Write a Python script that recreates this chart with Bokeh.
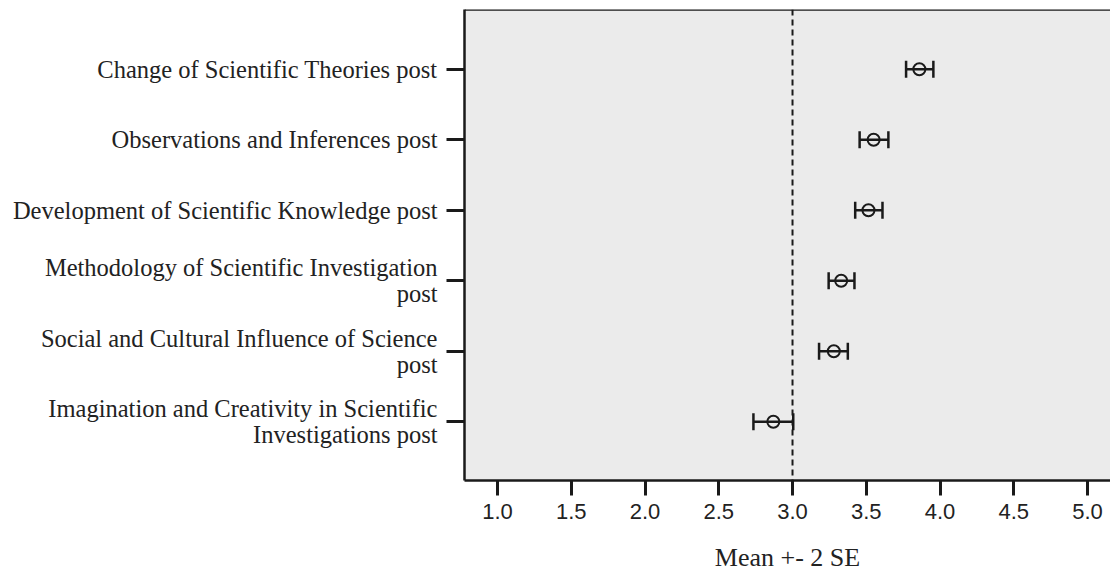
from bokeh.plotting import figure
from bokeh.models import (ColumnDataSource, Whisker, TeeHead, Span, FixedTicker,
                          Range1d, PrintfTickFormatter)
from bokeh.embed import file_html
from bokeh.resources import INLINE

categories = [
    "Change of Scientific Theories post",
    "Observations and Inferences post",
    "Development of Scientific Knowledge post",
    "Methodology of Scientific Investigation\npost",
    "Social and Cultural Influence of Science\npost",
    "Imagination and Creativity in Scientific\nInvestigations post",
]
means = [3.86, 3.55, 3.515, 3.33, 3.28, 2.87]
lower = [3.77, 3.455, 3.425, 3.245, 3.18, 2.735]
upper = [3.955, 3.65, 3.61, 3.42, 3.375, 3.005]
x_ticks = [1.0, 1.5, 2.0, 2.5, 3.0, 3.5, 4.0, 4.5, 5.0]
reference_value = 3.0
x_label = "Mean +- 2 SE"

n = len(categories)
ypos = [n - i for i in range(n)]

src = ColumnDataSource(dict(y=ypos, mean=means, lower=lower, upper=upper))

Y_TOP = 6.847
p = figure(width=1110, height=574, output_backend="svg", toolbar_location=None,
           x_range=Range1d(0.776, 5.156), y_range=Range1d(0.167, Y_TOP),
           min_border_left=464, min_border_right=0, min_border_top=9,
           min_border_bottom=92)
p.background_fill_color = "#ebebeb"
p.border_fill_color = "white"
p.outline_line_color = None
p.xgrid.visible = False
p.ygrid.visible = False

# top border
p.add_layout(Span(location=Y_TOP, dimension="width", line_color="#1a1a1a", line_width=2.5))
# reference dashed line
p.add_layout(Span(location=reference_value, dimension="height", line_color="#1a1a1a",
                  line_width=2, line_dash="6 4"))

w = Whisker(source=src, base="y", lower="lower", upper="upper", dimension="width",
            line_color="#1a1a1a", line_width=2.5,
            lower_head=TeeHead(size=17, line_color="#1a1a1a", line_width=2.5),
            upper_head=TeeHead(size=17, line_color="#1a1a1a", line_width=2.5))
p.add_layout(w)
p.scatter(x="mean", y="y", source=src, marker="circle", size=12,
          fill_alpha=0, line_color="#1a1a1a", line_width=2)

# x axis
xa = p.xaxis[0]
xa.ticker = FixedTicker(ticks=x_ticks)
xa.formatter = PrintfTickFormatter(format="%.1f")
xa.minor_tick_line_color = None
xa.major_tick_in = 0
xa.major_tick_out = 15
xa.major_tick_line_width = 3
xa.major_tick_line_color = "#1a1a1a"
xa.axis_line_width = 2.5
xa.axis_line_color = "#1a1a1a"
xa.major_label_text_font = "Liberation Sans"
xa.major_label_text_font_size = "22px"
xa.major_label_text_color = "#222222"
xa.major_label_standoff = 8
xa.axis_label = x_label
xa.axis_label_text_font = "Liberation Serif"
xa.axis_label_text_font_size = "26px"
xa.axis_label_text_font_style = "normal"
xa.axis_label_text_color = "#222222"
xa.axis_label_standoff = 21

# y axis
ya = p.yaxis[0]
ya.ticker = FixedTicker(ticks=ypos)
ya.major_label_overrides = {y: c for y, c in zip(ypos, categories)}
ya.minor_tick_line_color = None
ya.major_tick_in = 0
ya.major_tick_out = 18
ya.major_tick_line_width = 3
ya.major_tick_line_color = "#1a1a1a"
ya.axis_line_width = 2.5
ya.axis_line_color = "#1a1a1a"
ya.major_label_text_font = "Liberation Serif"
ya.major_label_text_font_size = "24.5px"
ya.major_label_text_line_height = 0.95
ya.major_label_text_color = "#222222"
ya.major_label_standoff = 9

open("out.html", "w").write(file_html(p, INLINE))
